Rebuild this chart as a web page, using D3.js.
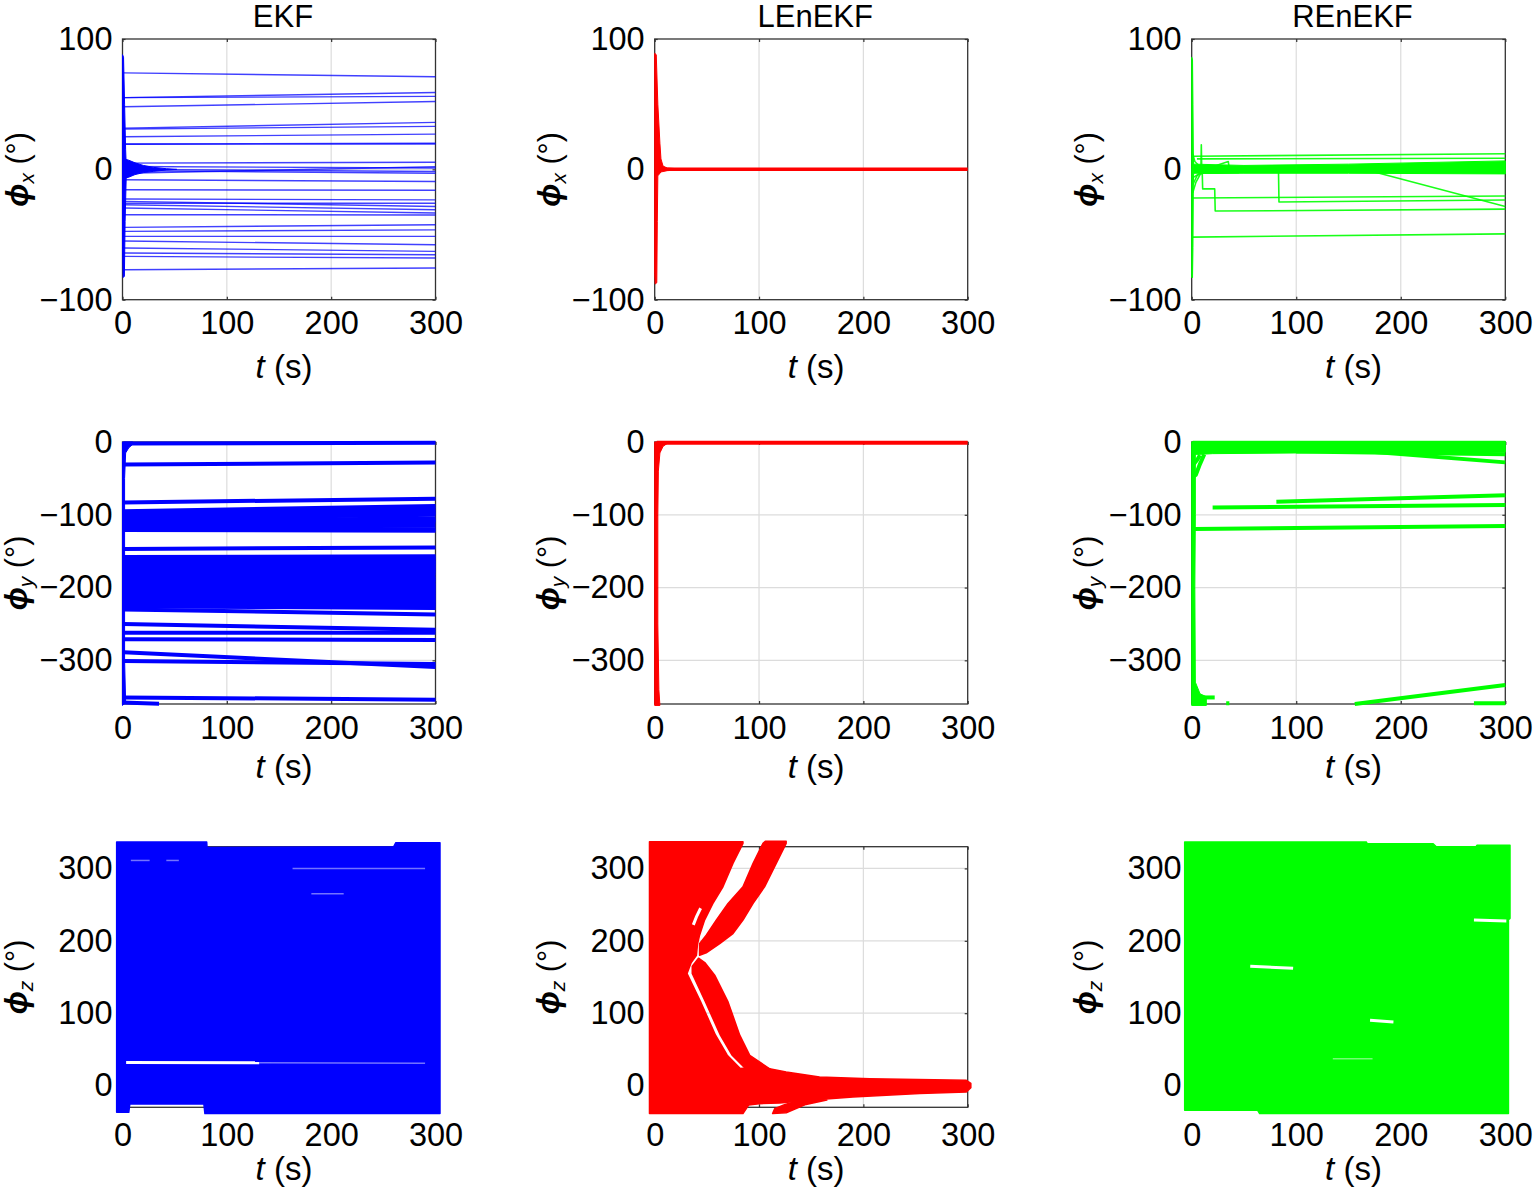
<!DOCTYPE html>
<html><head><meta charset="utf-8">
<script src="https://cdn.jsdelivr.net/npm/d3@7"></script>
<style>body{margin:0;background:#fff}svg{display:block}</style>
</head><body><svg id="c" width="1536" height="1187"></svg>
<script>
// ---------- axes / labels ----------
const tDomain=[0,300];
const tTicks=[0,100,200,300];
const titles=["EKF","LEnEKF","REnEKF"];
const comps=["x","y","z"];
const yDomains=[[-100,100],[-360,0],[-30,330]];
const yTicks=[[-100,0,100],[-300,-200,-100,0],[0,100,200,300]];
const colors=["#0000ff","#ff0000","#00ff00"];

// ---------- row 1 : phi_x ----------
const ekfXStart=[74,55,55,48,31.6,31,25,19.3,19.5,4.8,2.2,0,-1,-3,-8,-15.7,-22.8,-24.6,-26,-27.2,-29.7,-34.8,-44.5,-47.6,-51.4,-55,-60.3,-64.2,-66.8,-77];
const ekfXEnd=[71,59,56,52,36,33,27,19.5,20,5.5,1,-1.7,-3,2,-9.3,-16,-23.4,-28.5,-26,-31,-33.5,-35,-42.5,-46.4,-51.4,-57.8,-62.9,-65.5,-68,-75.7];
const ekfXSpike=[[0,88],[1,86],[2,50],[3,15],[3.5,5],[3.5,-8],[2.5,-40],[1.8,-82],[0.6,-83],[0,-60]];
const ekfXOsc=[[2,8],[6,7],[12,5],[20,3],[30,1.5],[42,0.5],[52,0],[42,-0.5],[30,-1.5],[20,-2.5],[12,-4],[6,-6],[2,-7]];

const lenXSpike=[[0,89],[1.5,88],[3,50],[5,20],[6,8],[8,2.5],[12,1],[20,0.6],[20,-0.6],[12,-1],[6,-2],[3,-5],[2.5,-40],[2,-87],[0.5,-88],[0,-80]];
const lenXLine=[[2,0],[300,0]];

const renXSpike=[[0,86],[0.8,84],[1.2,50],[1.6,10],[2,0],[1.6,-10],[1.2,-60],[0.8,-83],[0,-83]];
const renXBand=[[2,4],[50,3],[150,4],[300,6.5],[300,-3.5],[150,-3],[50,-3],[2,-3]];
const renXLines=[
 [[1,10],[300,12]],
 [[5,8],[300,8.5]],
 [[8.8,0],[9.2,18.8],[9.6,0]],
 [[0,0],[83,0],[83.5,-25],[300,-23.5]],
 [[0,-22],[300,-20.5]],
 [[0,0],[165,0],[300,-28.5]],
 [[0,0],[10,0],[10.5,-15],[22,-15],[22.5,-32],[300,-30.5]],
 [[0,-52],[300,-49.5]],
 [[1,-18],[4,-10],[8,-4],[15,-1],[30,0]],
 [[1,-12],[5,-5],[10,-2],[20,0]],
 [[1,12],[3,6],[8,2],[20,0]],
 [[2,-6],[8,-3],[25,-3],[45,-2.5],[50,0]],
 [[20,2],[35,6],[36,0]]
];

// ---------- row 2 : phi_y ----------
const ekfYStart=[-2,-31,-83,-95,-98,-100,-102,-105,-108,-110,-112,-115,-118,-121,-147,-158,-160,-163,-165,-168,-170,-172,-175,-177,-179,-181,-183,-186,-188,-190,-193,-195,-198,-200,-203,-205,-208,-210,-213,-215,-218,-220,-223,-226,-230,-250,-262,-271,-289,-301,-351];
const ekfYEnd=[-1,-28,-78,-88,-92,-95,-98,-100,-105,-108,-110,-115,-120,-122,-145,-157,-159,-162,-164,-166,-168,-170,-173,-175,-178,-180,-184,-188,-190,-193,-196,-198,-201,-203,-206,-208,-211,-213,-216,-218,-221,-223,-225,-228,-237,-258,-262,-272,-309,-305,-354];
const ekfYVert=[[0,0],[10,0],[10,-3],[6,-8],[3,-15],[2,-50],[2,-300],[3,-358],[0,-362]];
const ekfYStub=[[0,-358],[35,-359.5]];

const lenYVert=[[0,0],[12,0],[12,-2],[8,-6],[5,-15],[3.5,-40],[3,-100],[3,-250],[4,-340],[5,-362],[0,-362]];
const lenYLine=[[2,-1],[300,-1]];

const renYVert=[[0,0],[3.5,0],[3.5,-100],[3,-200],[3.5,-330],[8,-346],[14,-350],[14,-362],[0,-362]];
const renYTop=[[1,1],[300,1],[300,-14],[150,-14.5],[20,-16],[8,-17],[1,-17]];
const renYLines=[
 [[1,-48],[4,-45],[8,-30],[12,-17]],
 [[2,-30],[5,-25],[8,-18]],
 [[0,-12],[160,-12],[300,-28]],
 [[100,-13],[300,-17]],
 [[81,-82],[300,-73]],
 [[20,-90],[300,-86.6]],
 [[2,-119.5],[300,-115.4]],
 [[156,-360],[300,-334]],
 [[270,-359],[300,-359]],
 [[0,-351],[22,-351]],
 [[33,-359],[36,-359]]
];

// ---------- row 3 : phi_z ----------
const ekfZBody=[[-5.6,336.5],[80.7,336.5],[81,329],[260,330],[262,335.5],[304.3,335.5],[304.3,-38.7],[79,-38.7],[78,-25.3],[7,-25.3],[6,-37],[-5.6,-37]];
const ekfZGaps=[[[3.5,31.8],[131,31.5]]];
const ekfZFaint=[[[131,31.5],[290,31]],[[8,311],[26,311]],[[42,311],[54,311]],[[163,300],[290,300]],[[181,265],[212,265]]];

const lenZBody=[[-5,337],[84.6,337],[84.6,334.7],[75,307],[65.4,274.6],[55.8,251.7],[47.8,228.6],[43,207.8],[41,195],[40,180],[35,170],[31,154.9],[44,115.6],[58.3,69.6],[69.5,41.9],[82,23.5],[100.8,25.8],[126,18.9],[158,12],[206,9.6],[298.7,7.3],[303,3],[303,-3],[298.7,-8.8],[254,-11],[190,-15.8],[142,-21],[120,-24],[100,-25],[90,-27],[84.6,-38.7],[-5,-38.7]];
const lenZUp=[[43,196],[49.4,207.8],[59,228.6],[70.3,251.7],[84.6,274.6],[94.3,307],[103.8,334.7],[106,337.5],[126,337.5],[126,334.7],[116.5,307],[105.3,274.6],[94.3,251.7],[84.6,228.6],[75,210],[62.3,196],[49.4,183.4],[43,180]];
const lenZDown=[[36,165],[36,154.9],[48.7,115.6],[63,69.6],[74.3,41.9],[87,23.5],[113.4,20],[91.1,41.9],[81.5,69.6],[70.3,115.6],[57.5,152.5],[48,170],[42,176]];
const lenZLow=[[113,-38.7],[126,-37.5],[145,-26],[165,-20],[140,-20],[125,-26],[115,-32]];
const lenZGaps=[[[44,245],[40,233],[37,222]]];

const renZBody=[[-6.7,336.5],[167,336.5],[168,334],[231,334],[234,330],[272,330],[273,332],[304.5,332],[304.5,231],[303,229],[303,-38.7],[65,-38.7],[63,-34],[-6.7,-34]];
const renZGaps=[[[56,165],[97,162]],[[170.6,90.4],[193,88]],[[270,228.6],[301,227.5]]];
const renZFaint=[[[135,37],[173,37]]];

// ---------- layout ----------
const FONT='"Liberation Sans", Arial, Helvetica, sans-serif';
const colX=[[122.5,435.5],[654.7,967.7],[1191.7,1505.3]];
const rowY=[[39,299.7],[442,704],[846.7,1107.3]];
const xPad=[11,12,15.5];
const xLabBase=[78.3,74,72.7];
const yLabOff=[94.5,95.5,95.5];
const FS=32.5;

const lines2=(s,e)=>s.map((v,i)=>[[1,v],[300,e[i]]]);

const spec=[
 [ {shapes:[ekfXSpike,ekfXOsc],lines:lines2(ekfXStart,ekfXEnd),lw:1.4,lop:0.75,gaps:[],faint:[]},
   {shapes:[lenXSpike],lines:[lenXLine],lw:3.5,lop:1,gaps:[],faint:[]},
   {shapes:[renXSpike,renXBand],lines:renXLines,lw:1.6,lop:0.9,gaps:[],faint:[]} ],
 [ {shapes:[ekfYVert],lines:lines2(ekfYStart,ekfYEnd).concat([ekfYStub]),lw:4,lop:1,gaps:[],faint:[]},
   {shapes:[lenYVert],lines:[lenYLine],lw:4,lop:1,gaps:[],faint:[]},
   {shapes:[renYVert,renYTop],lines:renYLines,lw:4,lop:1,gaps:[],faint:[]} ],
 [ {shapes:[ekfZBody],lines:[],gaps:ekfZGaps,faint:ekfZFaint},
   {shapes:[lenZBody,lenZUp,lenZDown,lenZLow],lines:[],gaps:lenZGaps,faint:[]},
   {shapes:[renZBody],lines:[],gaps:renZGaps,faint:renZFaint} ]
];

const svg=d3.select("#c");
const axisColor="#333333";

for(let r=0;r<3;r++){
 for(let c=0;c<3;c++){
  const x=d3.scaleLinear().domain(tDomain).range(colX[c]);
  const y=d3.scaleLinear().domain(yDomains[r]).range([rowY[r][1],rowY[r][0]]);
  const g=svg.append("g");
  const [x0,x1]=colX[c],[y0,y1]=rowY[r];
  // grid
  g.selectAll(".gx").data(tTicks.filter(t=>t>tDomain[0]&&t<tDomain[1])).join("line")
   .attr("x1",d=>x(d)).attr("x2",d=>x(d)).attr("y1",y0).attr("y2",y1)
   .attr("stroke","#dcdcdc").attr("stroke-width",1.2);
  g.selectAll(".gy").data(yTicks[r].filter(t=>t>yDomains[r][0]&&t<yDomains[r][1])).join("line")
   .attr("y1",d=>y(d)).attr("y2",d=>y(d)).attr("x1",x0).attr("x2",x1)
   .attr("stroke","#dcdcdc").attr("stroke-width",1.2);
  // box
  g.append("rect").attr("x",x0).attr("y",y0).attr("width",x1-x0).attr("height",y1-y0)
   .attr("fill","none").attr("stroke",axisColor).attr("stroke-width",1.3);
  // axes
  const xb=g.append("g").attr("transform",`translate(0,${y1})`)
   .call(d3.axisBottom(x).tickValues(tTicks).tickSize(-3).tickPadding(xPad[r]));
  const xt=g.append("g").attr("transform",`translate(0,${y0})`)
   .call(d3.axisTop(x).tickValues(tTicks).tickSize(-3).tickFormat(""));
  const yl=g.append("g").attr("transform",`translate(${x0},0)`)
   .call(d3.axisLeft(y).tickValues(yTicks[r]).tickSize(-3).tickPadding(10));
  const yr=g.append("g").attr("transform",`translate(${x1},0)`)
   .call(d3.axisRight(y).tickValues(yTicks[r]).tickSize(-3).tickFormat(""));
  [xb,xt,yl,yr].forEach(a=>{
   a.select(".domain").remove();
   a.selectAll("line").attr("stroke",axisColor).attr("stroke-width",1.2);
   a.selectAll("text").attr("font-size",FS).attr("font-family",FONT).attr("fill","#000");
  });
  // data
  const col=colors[c];
  const line=d3.line().x(d=>x(d[0])).y(d=>y(d[1]));
  const s=spec[r][c];
  const dg=g.append("g");
  dg.selectAll(".sh").data(s.shapes).join("path")
   .attr("d",d=>line(d)+"Z").attr("fill",col).attr("stroke",col)
   .attr("stroke-width",r===2?1.5:1).attr("stroke-linejoin","round");
  dg.selectAll(".ln").data(s.lines).join("path")
   .attr("d",line).attr("fill","none").attr("stroke",col)
   .attr("stroke-width",s.lw).attr("stroke-opacity",s.lop).attr("stroke-linejoin","round");
  dg.selectAll(".gp").data(s.gaps).join("path")
   .attr("d",line).attr("fill","none").attr("stroke","#fff").attr("stroke-width",3);
  dg.selectAll(".fp").data(s.faint).join("path")
   .attr("d",line).attr("fill","none").attr("stroke","#fff").attr("stroke-width",1.5).attr("stroke-opacity",0.45);

  // title
  if(r===0){
   g.append("text").attr("x",(x0+x1)/2+4).attr("y",27).attr("text-anchor","middle")
    .attr("font-family",FONT).attr("font-size",31).text(titles[c]);
  }
  // x label
  const xlab=g.append("text").attr("x",(x0+x1)/2+5).attr("y",y1+xLabBase[r])
   .attr("text-anchor","middle").attr("font-family",FONT).attr("font-size",33);
  xlab.append("tspan").attr("font-style","italic").text("t");
  xlab.append("tspan").text(" (s)");
  // y label
  const ylab=g.append("text")
   .attr("transform",`translate(${x0-yLabOff[r]},${(y0+y1)/2}) rotate(-90)`)
   .attr("text-anchor","middle").attr("font-family",FONT).attr("font-size",30.5);
  ylab.append("tspan").attr("font-style","italic").attr("font-weight","bold").text("ϕ");
  ylab.append("tspan").attr("font-style","italic").attr("font-size",21).attr("dy",6).text(comps[r]);
  ylab.append("tspan").attr("dy",-6).text(" (°)");
 }
}
</script></body></html>
